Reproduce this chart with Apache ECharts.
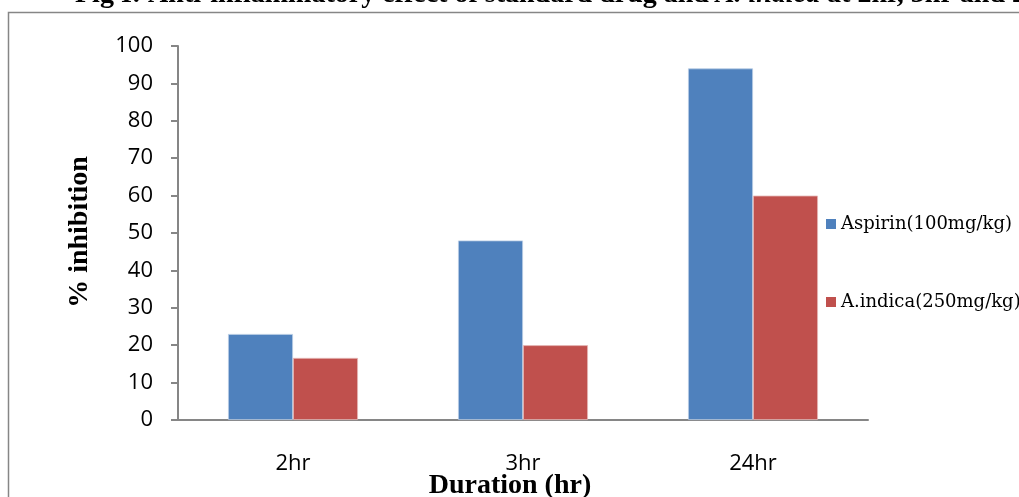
<!DOCTYPE html>
<html><head><meta charset="utf-8">
<script src="https://cdn.jsdelivr.net/npm/echarts@6/dist/echarts.min.js"></script>
<style>html,body{margin:0;padding:0;background:#fff}#c{width:1019px;height:497px}</style>
</head><body><div id="c"></div>
<script>
const categories = ['2hr', '3hr', '24hr'];
const seriesNames = ['Aspirin(100mg/kg)', 'A.indica(250mg/kg)'];
const aspirin = [23, 48, 94];
const aIndica = [16.6, 20, 60];
const yTicks = [0, 10, 20, 30, 40, 50, 60, 70, 80, 90, 100];

const chart = echarts.init(document.getElementById('c'));
chart.setOption({
  animation: false,
  backgroundColor: '#fff',
  grid: { left: 178, right: 151, top: 46, bottom: 77, containLabel: false },
  graphic: [
    { type: 'rect', shape: { x: 8.5, y: 12.5, width: 1100, height: 600 }, style: { fill: 'none', stroke: '#868686', lineWidth: 1.5 } },
    { type: 'text', left: 75, top: -19, style: {
        text: '{b|Fig I: Anti-inflammatory effect of standard drug and }{i|A. indica}{b| at 2hr, 3hr and 24hr}',
        rich: {
          b: { fontFamily: 'Liberation Serif', fontWeight: 'bold', fontSize: 28, fill: '#000' },
          i: { fontFamily: 'Liberation Serif', fontWeight: 'bold', fontStyle: 'italic', fontSize: 28, fill: '#000' }
        } } },
    { type: 'text', x: 510, y: 486, style: { text: 'Duration (hr)', fontFamily: 'Liberation Serif', fontWeight: 'bold', fontSize: 28, fill: '#000', align: 'center', verticalAlign: 'middle' } },
    { type: 'text', x: 80, y: 232, rotation: Math.PI / 2, style: { text: '% inhibition', fontFamily: 'Liberation Serif', fontWeight: 'bold', fontSize: 28, fill: '#000', align: 'center', verticalAlign: 'middle' } }
  ],
  legend: {
    orient: 'vertical', left: 826, top: 215, padding: 0, itemWidth: 10, itemHeight: 10, itemGap: 60,
    icon: 'rect', data: seriesNames, itemStyle: { borderWidth: 0 },
    textStyle: { fontFamily: 'DejaVu Serif', fontSize: 18, color: '#000' }
  },
  xAxis: {
    type: 'category', data: categories,
    axisLine: { lineStyle: { color: '#868686', width: 2 } },
    axisTick: { show: false },
    axisLabel: { margin: 33, fontFamily: 'Open Sans', fontSize: 22, color: '#000' }
  },
  yAxis: {
    type: 'value', min: 0, max: 100, interval: 10,
    axisLine: { show: true, lineStyle: { color: '#868686', width: 2 } },
    axisTick: { show: true, length: 7, lineStyle: { color: '#868686', width: 2 } },
    splitLine: { show: false },
    axisLabel: { margin: 25, fontFamily: 'Open Sans', fontSize: 22, color: '#000',
      formatter: v => yTicks.includes(v) ? String(v) : '' }
  },
  series: [
    { name: seriesNames[0], type: 'bar', data: aspirin, barGap: '0%', barCategoryGap: '43.5%',
      itemStyle: { color: '#4F81BD', borderColor: '#b9cde5', borderWidth: 0.8 } },
    { name: seriesNames[1], type: 'bar', data: aIndica,
      itemStyle: { color: '#C0504D', borderColor: '#e6b9b8', borderWidth: 0.8 } }
  ]
});
</script></body></html>
